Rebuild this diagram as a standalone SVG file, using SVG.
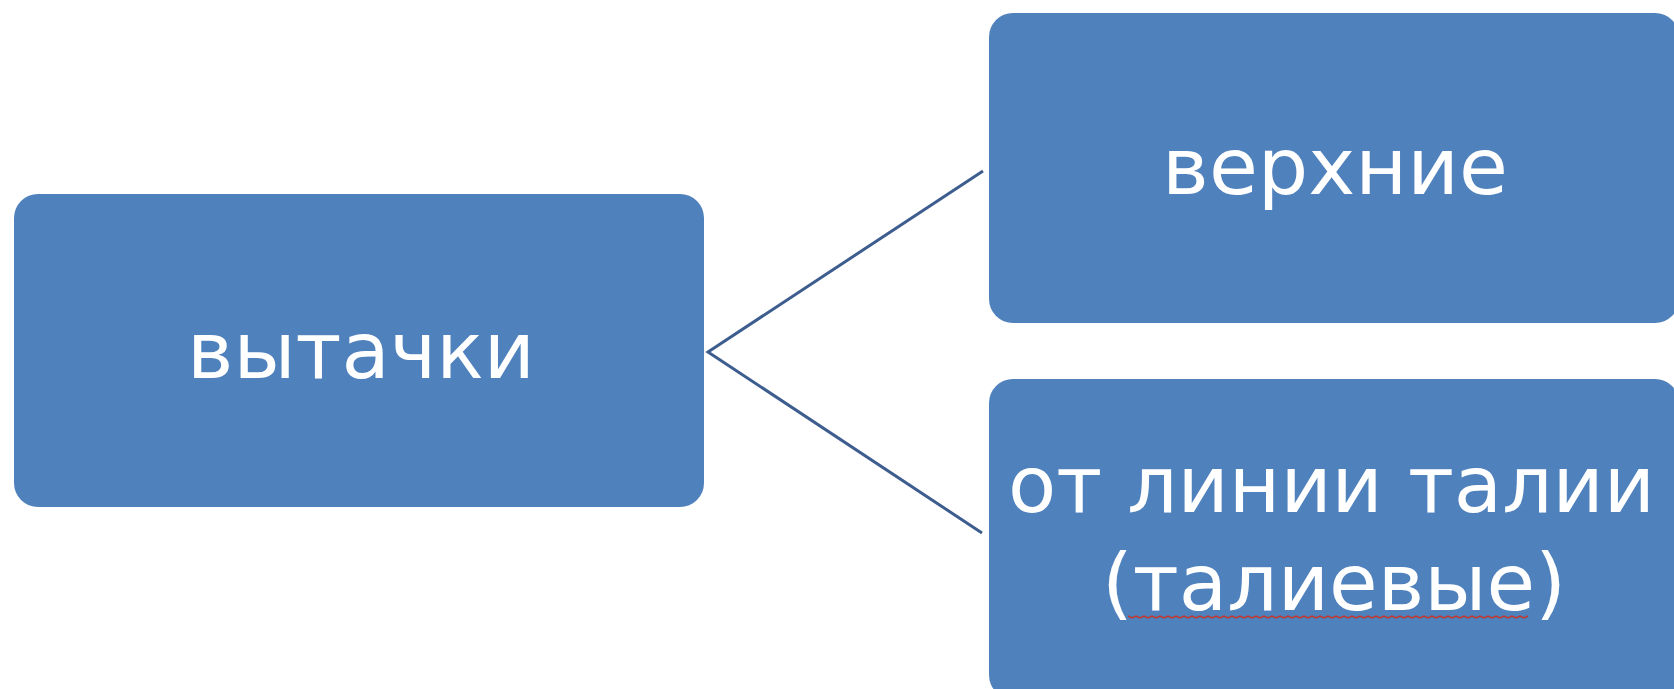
<svg xmlns="http://www.w3.org/2000/svg" width="1674" height="689" viewBox="0 0 1674 689">
  <style>
    .box { fill: #4f81bd; }
    .lbl { font-family: "DejaVu Sans", "Noto Sans", sans-serif; font-size: 78px; fill: #ffffff; }
    .conn { stroke: #3d5d8f; stroke-width: 3; fill: none; }
    .squiggle { stroke: #c0392b; stroke-width: 1.5; fill: none; }
  </style>
  <rect width="1674" height="689" fill="#ffffff"/>
  <g id="connectors">
    <polyline class="conn" points="983,171 708,352 982,533"/>
  </g>
  <g id="node-vytachki">
    <rect class="box" x="14" y="194" width="690" height="313" rx="24" ry="24"/>
    <text class="lbl" x="187" y="378" textLength="348" lengthAdjust="spacingAndGlyphs">вытачки</text>
  </g>
  <g id="node-verhnie">
    <rect class="box" x="989" y="13" width="690" height="310" rx="24" ry="24"/>
    <text class="lbl" x="1162" y="194" textLength="346" lengthAdjust="spacingAndGlyphs">верхние</text>
  </g>
  <g id="node-talievye">
    <rect class="box" x="989" y="379" width="690" height="320" rx="24" ry="24"/>
    <text class="lbl" x="1008" y="512" textLength="647" lengthAdjust="spacingAndGlyphs">от линии талии</text>
    <text class="lbl" x="1102" y="610" textLength="464" lengthAdjust="spacingAndGlyphs">(талиевые)</text>
    <path class="squiggle" d="M1128,616 l4,2 l4,-2 l4,2 l4,-2 l4,2 l4,-2 l4,2 l4,-2 l4,2 l4,-2 l4,2 l4,-2 l4,2 l4,-2 l4,2 l4,-2 l4,2 l4,-2 l4,2 l4,-2 l4,2 l4,-2 l4,2 l4,-2 l4,2 l4,-2 l4,2 l4,-2 l4,2 l4,-2 l4,2 l4,-2 l4,2 l4,-2 l4,2 l4,-2 l4,2 l4,-2 l4,2 l4,-2 l4,2 l4,-2 l4,2 l4,-2 l4,2 l4,-2 l4,2 l4,-2 l4,2 l4,-2 l4,2 l4,-2 l4,2 l4,-2 l4,2 l4,-2 l4,2 l4,-2 l4,2 l4,-2 l4,2 l4,-2 l4,2 l4,-2 l4,2 l4,-2 l4,2 l4,-2 l4,2 l4,-2 l4,2 l4,-2 l4,2 l4,-2 l4,2 l4,-2 l4,2 l4,-2 l4,2 l4,-2 l4,2 l4,-2 l4,2 l4,-2 l4,2 l4,-2 l4,2 l4,-2 l4,2 l4,-2 l4,2 l4,-2 l4,2 l4,-2 l4,2 l4,-2 l4,2 l4,-2 l4,2 l4,-2"/>
  </g>
</svg>
